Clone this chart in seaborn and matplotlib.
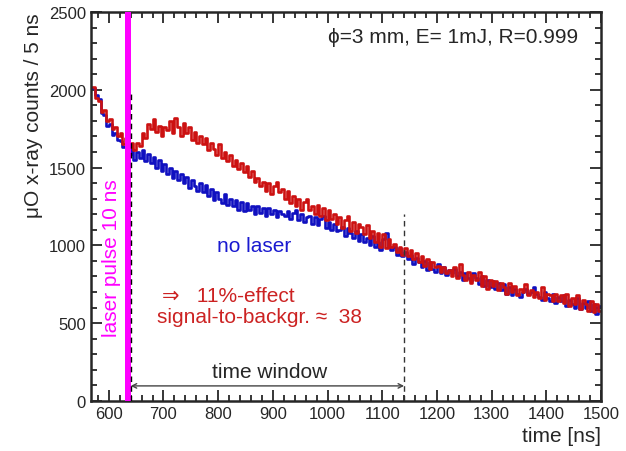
import numpy as np
import pandas as pd
import seaborn as sns
import matplotlib.pyplot as plt
from matplotlib.ticker import MultipleLocator

# bin left edges, 5 ns bins
bin_start = 570
bin_width = 5

# counts with laser (red)
laser_counts = [
    2020, 1950, 1930, 1860, 1870, 1800, 1810, 1750, 1760, 1700,
    1720, 1650, 1690, 1630, 1660, 1610, 1660, 1640, 1720, 1690,
    1780, 1750, 1810, 1730, 1770, 1700, 1760, 1740, 1800, 1720,
    1820, 1760, 1700, 1790, 1720, 1760, 1680, 1730, 1660, 1700,
    1650, 1690, 1610, 1660, 1620, 1580, 1650, 1560, 1600, 1540,
    1580, 1510, 1550, 1490, 1530, 1470, 1510, 1440, 1480, 1410,
    1430, 1380, 1410, 1350, 1400, 1330, 1380, 1410, 1340, 1360,
    1300, 1350, 1270, 1320, 1250, 1300, 1230, 1280, 1300, 1230,
    1250, 1200, 1260, 1190, 1240, 1160, 1230, 1170, 1200, 1140,
    1180, 1110, 1160, 1190, 1090, 1150, 1080, 1140, 1120, 1070,
    1130, 1050, 1090, 1020, 1080, 990, 1070, 980, 1040, 990,
    1010, 960, 990, 940, 980, 930, 970, 910, 950, 890,
    930, 870, 910, 850, 890, 860, 870, 830, 860, 820,
    840, 800, 860, 790, 880, 810, 780, 830, 760, 810,
    780, 830, 740, 800, 720, 780, 740, 770, 710, 760,
    730, 690, 760, 700, 740, 680, 720, 700, 750, 680,
    710, 670, 700, 660, 730, 650, 690, 680, 640, 690,
    640, 680, 630, 690, 610, 660, 620, 680, 590, 650,
    620, 580, 640, 570, 620, 580,
]

# counts without laser (blue)
nolaser_counts = [
    2010, 1970, 1940, 1850, 1840, 1770, 1780, 1710, 1720, 1680,
    1670, 1630, 1640, 1590, 1620, 1550, 1600, 1560, 1610, 1540,
    1590, 1530, 1570, 1500, 1550, 1480, 1520, 1460, 1500, 1430,
    1480, 1420, 1460, 1400, 1440, 1370, 1420, 1380, 1350, 1400,
    1340, 1390, 1320, 1360, 1290, 1340, 1300, 1270, 1330, 1260,
    1300, 1250, 1290, 1230, 1280, 1220, 1270, 1230, 1250, 1200,
    1250, 1210, 1240, 1190, 1240, 1200, 1230, 1180, 1220, 1200,
    1190, 1220, 1170, 1210, 1230, 1160, 1200, 1150, 1180, 1190,
    1140, 1180, 1130, 1170, 1190, 1110, 1150, 1100, 1140, 1090,
    1100, 1120, 1060, 1110, 1080, 1050, 1090, 1030, 1070, 1020,
    1050, 1000, 1060, 990, 1020, 970, 1040, 1080, 990, 970,
    990, 940, 980, 930, 960, 910, 940, 880, 920, 890,
    860, 900, 840, 890, 850, 830, 880, 820, 860, 810,
    840, 820, 850, 800, 830, 780, 820, 790, 770, 820,
    790, 750, 800, 740, 780, 730, 770, 720, 760, 710,
    750, 690, 730, 680, 720, 690, 670, 700, 720, 690,
    700, 730, 690, 670, 650, 700, 660, 640, 690, 630,
    670, 640, 680, 610, 650, 620, 600, 660, 590, 630,
    600, 640, 580, 620, 560, 610,
]

n = len(laser_counts)
centers = bin_start + bin_width * (np.arange(n) + 0.5)
df = pd.DataFrame({
    'time': np.concatenate([centers, centers]),
    'counts': laser_counts + nolaser_counts,
    'serie': ['laser'] * n + ['no laser'] * n,
})
bin_end = bin_start + bin_width * n

sns.set_style("ticks")
plt.rcParams['font.family'] = ['Liberation Sans', 'DejaVu Sans']
plt.rcParams['xtick.direction'] = 'in'
plt.rcParams['ytick.direction'] = 'in'

fig = plt.figure(figsize=(6.26, 4.52), dpi=100)
ax = fig.add_axes([0.145, 0.111, 0.815, 0.860])

cores = {'laser': '#cc1111', 'no laser': '#1010c0'}
# no laser first so that red is on top
for serie in ['no laser', 'laser']:
    sub = df[df['serie'] == serie]
    sns.histplot(data=sub, x='time', weights='counts', binwidth=bin_width,
                 binrange=(bin_start, bin_end), element='step', fill=False,
                 color=cores[serie], linewidth=1.9, ax=ax)

# laser pulse band and time window
ax.axvspan(630, 640, color='#ff00ff', lw=0, zorder=3)
ax.plot([640, 640], [0, 2000], ls=(0, (4, 3)), color='black', lw=1, zorder=4)
ax.plot([1140, 1140], [0, 1200], ls=(0, (4, 3)), color='#333333', lw=1, zorder=4)
ax.annotate('', xy=(640, 96), xytext=(1140, 96),
            arrowprops=dict(arrowstyle='<->', color='#444444', lw=1,
                            shrinkA=0, shrinkB=0, mutation_scale=8))
ax.text(894, 186, 'time window', fontsize=15, ha='center', va='center')

ax.text(604, 925, 'laser pulse 10 ns', rotation=90, color='#ff00ff',
        fontsize=15, ha='center', va='center')
ax.text(865, 997, 'no laser', color='#1a1ad0', fontsize=15, ha='center', va='center')
ax.text(697, 675, '⇒   11%-effect', color='#cc2222', fontsize=15, ha='left', va='center')
ax.text(688, 545, 'signal-to-backgr. ≈  38', color='#cc2222', fontsize=15,
        ha='left', va='center')
ax.text(0.955, 0.938, 'ϕ=3 mm, E= 1mJ, R=0.999', transform=ax.transAxes,
        fontsize=15, ha='right', va='center')

ax.set_xlim(567, 1500)
ax.set_ylim(0, 2500)
ax.xaxis.set_major_locator(MultipleLocator(100))
ax.xaxis.set_minor_locator(MultipleLocator(20))
ax.yaxis.set_major_locator(MultipleLocator(500))
ax.yaxis.set_minor_locator(MultipleLocator(100))
ax.tick_params(which='both', top=True, right=True, direction='in', width=1.3,
               labelsize=12)
ax.tick_params(which='major', length=8)
ax.tick_params(which='minor', length=4)
for s in ax.spines.values():
    s.set_linewidth(1.8)
    s.set_visible(True)

ax.set_xlabel('time [ns]', fontsize=15, ha='right', x=1.0)
ax.set_ylabel('μO x-ray counts / 5 ns', fontsize=15, ha='right', y=1.0)

plt.savefig('out.png', dpi=100)
